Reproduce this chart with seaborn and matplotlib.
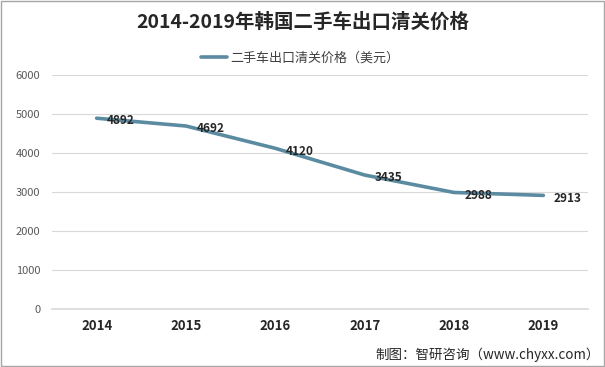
import matplotlib
matplotlib.use("Agg")
import matplotlib.pyplot as plt
import seaborn as sns
import pandas as pd

years = ["2014", "2015", "2016", "2017", "2018", "2019"]
prices = [4892, 4692, 4120, 3435, 2988, 2913]
series_name = "二手车出口清关价格（美元）"
title = "2014-2019年韩国二手车出口清关价格"
source = "制图：智研咨询（www.chyxx.com）"
yticks = [0, 1000, 2000, 3000, 4000, 5000, 6000]

sns.set_theme(style="white")
plt.rcParams['font.family'] = ['Noto Sans CJK SC', 'DejaVu Sans']

df = pd.DataFrame({"year": years, "price": prices})

fig = plt.figure(figsize=(6.05, 3.67), dpi=100)
ax = fig.add_axes([52/605, 1-309/367, (588-52)/605, (309-75)/367])

line_color = "#5B8BA0"
sns.lineplot(data=df, x="year", y="price", ax=ax, color=line_color, linewidth=2.6,
             label=series_name, sort=False)

ax.set_ylim(0, 6000)
ax.set_xlim(-0.5, 5.5)
ax.set_yticks(yticks)
ax.set_yticklabels([str(v) for v in yticks], fontsize=8, color="#595959")
ax.set_xlabel("")
ax.set_ylabel("")
for lbl in ax.get_xticklabels():
    lbl.set_fontweight("bold")
    lbl.set_fontsize(9.5)
    lbl.set_color("#262626")
ax.tick_params(axis="both", length=0)
ax.tick_params(axis="x", pad=7)
ax.tick_params(axis="y", pad=8.5)
ax.grid(axis="y", color="#D9D9D9", linewidth=0.8)
for s in ["top", "right", "left"]:
    ax.spines[s].set_visible(False)
ax.spines["bottom"].set_color("#D9D9D9")

for i, v in enumerate(prices):
    ax.annotate(str(v), (i, v), xytext=(17.5, -2), textcoords="offset points",
                ha="center", va="center", fontsize=8.5, fontweight="bold", color="#262626")

leg = ax.legend(loc="center", bbox_to_anchor=((300-52)/536, 1 + (75-58)/234), frameon=False,
                fontsize=9.4, handlelength=2.0, handletextpad=0.2)
for t in leg.get_texts():
    t.set_color("#404040")

fig.text(0.5, 1-22/367, title, ha="center", va="center", fontsize=14,
         fontweight="bold", color="#262626")
fig.text(600/605, 1-355/367, source, ha="right", va="center", fontsize=9.7, color="#262626")

fig.patches.append(plt.Rectangle((0.0015, 0.0025), 0.997, 0.995, transform=fig.transFigure,
                                 fill=False, edgecolor="#A6A6A6", linewidth=1))

fig.savefig("out.png", dpi=100)
